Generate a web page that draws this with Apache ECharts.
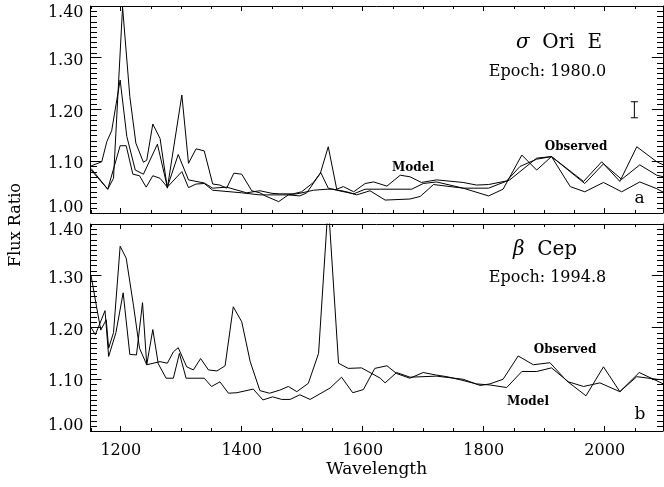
<!DOCTYPE html>
<html>
<head>
<meta charset="utf-8">
<script src="https://cdn.jsdelivr.net/npm/echarts@6/dist/echarts.min.js"></script>
<style>html,body{margin:0;padding:0;background:#fff}#c{width:664px;height:487px}</style>
</head>
<body>
<div id="c"></div>
<script>
// ---- Panel a (sigma Ori E) : three curves ----
const aLine1X = [1151,1178.5,1188,1203,1215,1225,1237.5,1243,1253,1265,1277,1301,1312,1324.5,1338,1352,1364,1375,1387,1400,1416.5,1430,1439,1461,1477,1496,1507.5,1530,1543,1557,1568,1585,1604,1618,1640,1662,1678,1697,1722,1766,1788,1808,1838,1860,1887.5,1912,1943,1967,1998,2028,2058,2086,2097];
const aLine1Y = [1.086,1.046,1.067,1.398,1.225,1.135,1.098,1.102,1.172,1.144,1.048,1.228,1.096,1.124,1.120,1.056,1.054,1.048,1.077,1.075,1.043,1.039,1.033,1.022,1.035,1.033,1.039,1.077,1.128,1.046,1.051,1.041,1.057,1.060,1.052,1.073,1.070,1.059,1.064,1.059,1.054,1.055,1.062,1.090,1.104,1.109,1.051,1.041,1.059,1.041,1.060,1.047,1.040];
const aLine2X = [1151,1168.6,1177,1185,1199,1210,1224,1237.5,1260.6,1277,1295,1312,1338,1352,1375,1408,1430,1450,1463,1485,1499,1518.5,1530.6,1543,1557,1585,1604,1629,1681,1700,1722,1766,1808,1843,1887.5,1912,1965,1995,2025,2053,2086,2097];
const aLine2Y = [1.091,1.099,1.138,1.159,1.257,1.148,1.083,1.075,1.133,1.050,1.113,1.064,1.058,1.048,1.050,1.039,1.043,1.038,1.037,1.037,1.041,1.059,1.078,1.048,1.044,1.037,1.046,1.046,1.046,1.057,1.060,1.048,1.048,1.064,1.106,1.109,1.061,1.099,1.061,1.128,1.099,1.093];
const aLine3X = [1151,1178.5,1199,1209,1220,1231,1242,1253,1265,1277,1301,1312,1324.5,1338,1352,1400,1430,1450,1477,1496,1518.5,1541,1551,1573.6,1590,1606.6,1612,1637,1678,1695,1717,1766,1808,1832,1863,1887.5,1912,1967,1998,2028,2058,2086,2097];
const aLine3Y = [1.083,1.046,1.130,1.130,1.075,1.072,1.050,1.072,1.067,1.050,1.080,1.049,1.056,1.057,1.044,1.039,1.035,1.035,1.035,1.038,1.044,1.046,1.046,1.041,1.035,1.041,1.043,1.025,1.027,1.032,1.055,1.048,1.033,1.046,1.112,1.083,1.109,1.057,1.095,1.065,1.093,1.073,1.070];
// error bar in panel a: [wavelength, low, high]
const aErrorBar = [[2049, 1.184, 1.215]];

// ---- Panel b (beta Cep) : observed and model ----
const bObsX = [1151,1160,1167,1176,1180,1188,1199,1209,1221,1231,1243,1265,1277,1287,1295,1309,1320,1332,1345,1359,1372.5,1386,1400,1414,1430,1446,1463,1477,1491,1510,1527,1543,1560,1576,1598,1629,1637,1656,1678,1722,1766,1794,1810,1832,1857,1882,1909.5,1937,1969,1998,2025,2057,2097];
const bObsY = [1.300,1.240,1.195,1.215,1.160,1.190,1.357,1.334,1.243,1.160,1.128,1.134,1.131,1.153,1.161,1.124,1.118,1.140,1.118,1.116,1.126,1.240,1.211,1.134,1.078,1.073,1.079,1.086,1.076,1.092,1.150,1.440,1.131,1.121,1.122,1.102,1.093,1.113,1.104,1.106,1.100,1.088,1.091,1.100,1.145,1.128,1.132,1.097,1.068,1.124,1.076,1.113,1.091];
const bModX = [1151,1158,1174,1180,1192,1204,1215,1226,1236,1243,1253,1262,1275,1287,1297,1308,1338,1350,1364,1378,1392,1419,1435,1451,1466,1480,1496,1513,1546,1565,1583.5,1601,1620,1640,1656,1678,1700,1722,1739,1761,1788,1810,1838,1863,1887.5,1912,1940,1965,1992,2025,2053,2086,2097];
const bModY = [1.200,1.186,1.2325,1.144,1.190,1.267,1.148,1.147,1.248,1.128,1.196,1.130,1.102,1.102,1.150,1.102,1.102,1.086,1.095,1.073,1.074,1.081,1.060,1.066,1.061,1.061,1.070,1.061,1.083,1.104,1.074,1.080,1.121,1.126,1.111,1.102,1.113,1.108,1.105,1.099,1.091,1.089,1.084,1.115,1.115,1.122,1.095,1.086,1.093,1.076,1.105,1.100,1.099];

// ---- axes ----
const xMin = 1150, xMax = 2096, yMin = 1.0, yMax = 1.4;
const xTickLabels = [1200, 1400, 1600, 1800, 2000];
const yTickLabels = [1.00, 1.10, 1.20, 1.30, 1.40];
const xMinorStep = 50, yMinorStep = 0.01;

const FONT = '"DejaVu Serif", "Liberation Serif", serif';
const zip = (xs, ys) => xs.map((x, i) => [x, ys[i]]);
const BLACK = {color: '#000', width: 1};

// minor tick positions (decoration only)
const xMinorTicks = [];
for (let k = Math.ceil(xMin / xMinorStep); k * xMinorStep <= xMax; k++) {
  const v = k * xMinorStep;
  if (v % 200 !== 0) xMinorTicks.push(v);
}
const yMinorTicks = [];
for (let k = 1; k < 40; k++) {
  if (k % 10 !== 0) yMinorTicks.push(+(yMin + k * yMinorStep).toFixed(2));
}

const grids = [
  {left: 90.5, top: 6, width: 572.3, height: 207},
  {left: 90.5, top: 224, width: 572.3, height: 207}
];

function xAxisDef(gi, pos, showLabel, name) {
  return {
    gridIndex: gi, type: 'value', position: pos, min: xMin, max: xMax,
    axisLine: {show: true, onZero: false, lineStyle: BLACK},
    axisTick: {show: true, inside: true, length: 5, customValues: xTickLabels, lineStyle: BLACK},
    axisLabel: {show: showLabel, customValues: xTickLabels, margin: 12, color: '#000', fontFamily: FONT, fontSize: 16,
      formatter: v => String(Math.round(v))},
    splitLine: {show: false},
    name: name || '', nameLocation: 'middle', nameGap: 30,
    nameTextStyle: {color: '#000', fontFamily: FONT, fontSize: 17}
  };
}

function yAxisDef(gi, pos, showLabel) {
  const rs = {fontFamily: FONT, fontSize: 16, color: '#000'};
  return {
    gridIndex: gi, type: 'value', position: pos, min: yMin, max: yMax, interval: 0.1,
    axisLine: {show: true, onZero: false, lineStyle: BLACK},
    axisTick: {show: true, inside: true, length: 11, lineStyle: BLACK},
    axisLabel: {
      show: showLabel, margin: 7, showMinLabel: true, showMaxLabel: true,
      color: '#000', fontFamily: FONT, fontSize: 16,
      formatter: function (v) {
        const m = yTickLabels.find(t => Math.abs(t - v) < 1e-6);
        if (m === undefined) return '';
        const s = m.toFixed(2);
        if (m === yTickLabels[0]) return '{lo|' + s + '}';
        if (m === yTickLabels[yTickLabels.length - 1]) return '{hi|' + s + '}';
        return '{mid|' + s + '}';
      },
      rich: {
        lo: Object.assign({padding: [0, 0, 10, 0]}, rs),
        hi: Object.assign({padding: [14, 0, 0, 0]}, rs),
        mid: Object.assign({padding: [6, 0, 0, 0]}, rs)
      }
    },
    splitLine: {show: false}
  };
}

function lineSeries(data, xi, yi) {
  return {type: 'line', data: data, xAxisIndex: xi, yAxisIndex: yi, symbol: 'none', showSymbol: false,
    lineStyle: BLACK, clip: true, animation: false};
}

// minor ticks on the four sides of a panel, placed through the panel's own scales (pixel-snapped)
const snap = v => Math.round(v) + 0.5;
function minorTickSeries(xi, yi) {
  return {
    type: 'custom', xAxisIndex: xi, yAxisIndex: yi, z: 5, data: [[1500, 1.2]],
    renderItem: function (params, api) {
      const st = {stroke: '#000', lineWidth: 1};
      const ch = [];
      const left = Math.round(api.coord([xMin, yMin])[0]), right = Math.round(api.coord([xMax, yMin])[0]);
      const bottom = Math.round(api.coord([xMin, yMin])[1]), top = Math.round(api.coord([xMin, yMax])[1]);
      yMinorTicks.forEach(function (v) {
        const y = snap(api.coord([xMin, v])[1]);
        ch.push({type: 'line', shape: {x1: left, y1: y, x2: left + 6, y2: y}, style: st});
        ch.push({type: 'line', shape: {x1: right, y1: y, x2: right - 6, y2: y}, style: st});
      });
      xMinorTicks.forEach(function (v) {
        const x = snap(api.coord([v, yMin])[0]);
        ch.push({type: 'line', shape: {x1: x, y1: bottom, x2: x, y2: bottom - 3}, style: st});
        ch.push({type: 'line', shape: {x1: x, y1: top, x2: x, y2: top + 3}, style: st});
      });
      return {type: 'group', children: ch};
    }
  };
}

function txt(text, x, y, size, rich, weight) {
  const st = {text: text, x: x, y: y, fill: '#000', font: (weight ? weight + ' ' : '') + size + 'px ' + FONT,
    align: 'center', verticalAlign: 'middle'};
  if (rich) st.rich = rich;
  return {type: 'text', style: st, z: 100};
}
const greek = {g: {fontFamily: FONT, fontSize: 20, fontStyle: 'italic', fill: '#000'}, n: {fontFamily: FONT, fontSize: 20, fill: '#000'}};

const option = {
  animation: false,
  backgroundColor: '#fff',
  grid: grids,
  xAxis: [xAxisDef(0, 'bottom', false), xAxisDef(0, 'top', false), xAxisDef(1, 'bottom', true, 'Wavelength'), xAxisDef(1, 'top', false)],
  yAxis: [yAxisDef(0, 'left', true), yAxisDef(0, 'right', false), yAxisDef(1, 'left', true), yAxisDef(1, 'right', false)],
  series: [
    lineSeries(zip(aLine1X, aLine1Y), 0, 0),
    lineSeries(zip(aLine2X, aLine2Y), 0, 0),
    lineSeries(zip(aLine3X, aLine3Y), 0, 0),
    lineSeries(zip(bObsX, bObsY), 2, 2),
    lineSeries(zip(bModX, bModY), 2, 2),
    minorTickSeries(0, 0),
    minorTickSeries(2, 2),
    {
      type: 'custom', xAxisIndex: 0, yAxisIndex: 0, data: aErrorBar,
      renderItem: function (params, api) {
        const lo = api.coord([api.value(0), api.value(1)]);
        const hi = api.coord([api.value(0), api.value(2)]);
        const w = 3.5, st = {stroke: '#000', lineWidth: 1};
        return {type: 'group', children: [
          {type: 'line', shape: {x1: lo[0], y1: lo[1], x2: hi[0], y2: hi[1]}, style: st},
          {type: 'line', shape: {x1: lo[0] - w, y1: lo[1], x2: lo[0] + w, y2: lo[1]}, style: st},
          {type: 'line', shape: {x1: hi[0] - w, y1: hi[1], x2: hi[0] + w, y2: hi[1]}, style: st}
        ]};
      }
    }
  ],
  graphic: [
    {type: 'text', x: 16, y: 225, rotation: Math.PI / 2,
      style: {text: 'Flux Ratio', fill: '#000', font: '16px ' + FONT, align: 'center', verticalAlign: 'middle'}},
    txt('{g|σ}{n|  Ori  E}', 559, 43, 20, greek),
    txt('Epoch: 1980.0', 547.5, 72, 16),
    txt('Model', 413, 168, 12, null, 'bold'),
    txt('Observed', 576, 147, 12, null, 'bold'),
    txt('a', 639.5, 199, 17),
    txt('{g|β}{n|  Cep}', 545, 250, 20, greek),
    txt('Epoch: 1994.8', 547.5, 278, 16),
    txt('Observed', 565, 350, 12, null, 'bold'),
    txt('Model', 528, 402, 12, null, 'bold'),
    txt('b', 640, 415, 17)
  ]
};

const chart = echarts.init(document.getElementById('c'), null, {renderer: 'canvas'});
chart.setOption(option);
</script>
</body>
</html>
